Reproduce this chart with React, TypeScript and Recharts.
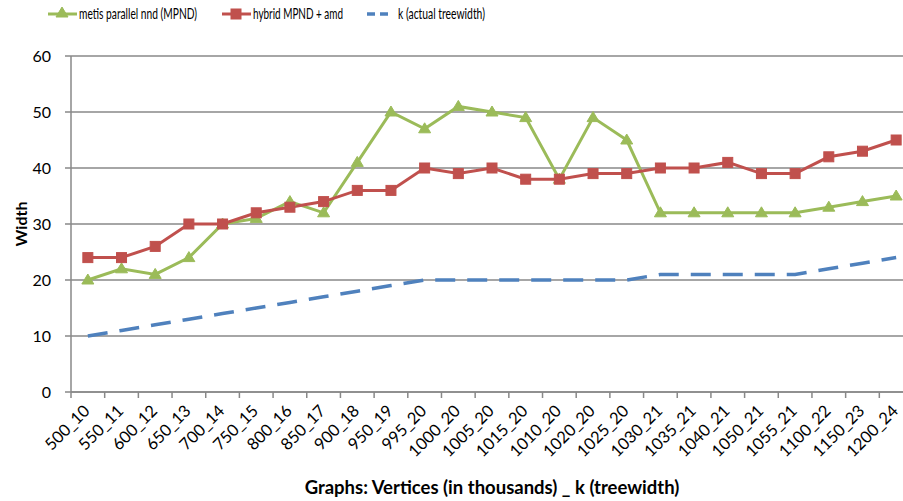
import React from 'react';
import { LineChart, Line, XAxis, YAxis, CartesianGrid, Label } from 'recharts';

const graphs = [
  '500_10', '550_11', '600_12', '650_13', '700_14', '750_15', '800_16', '850_17', '900_18',
  '950_19', '995_20', '1000_20', '1005_20', '1015_20', '1010_20', '1020_20', '1025_20',
  '1030_21', '1035_21', '1040_21', '1050_21', '1055_21', '1100_22', '1150_23', '1200_24',
];
const metisWidths = [20, 22, 21, 24, 30, 31, 34, 32, 41, 50, 47, 51, 50, 49, 38, 49, 45, 32, 32, 32, 32, 32, 33, 34, 35];
const hybridWidths = [24, 24, 26, 30, 30, 32, 33, 34, 36, 36, 40, 39, 40, 38, 38, 39, 39, 40, 40, 41, 39, 39, 42, 43, 45];
const treewidths = [10, 11, 12, 13, 14, 15, 16, 17, 18, 19, 20, 20, 20, 20, 20, 20, 20, 21, 21, 21, 21, 21, 22, 23, 24];
const yTicks = [0, 10, 20, 30, 40, 50, 60];

const GREEN = '#9BBB59';
const RED = '#C0504D';
const BLUE = '#4F81BD';
const GRID = '#888';
const FONT = 'Lato, "Open Sans", sans-serif';

const PLOT_W = 842;
const HALF_BAND = PLOT_W / graphs.length / 2;

const data = graphs.map((g, i) => ({
  graph: g,
  metis: metisWidths[i],
  hybrid: hybridWidths[i],
  k: treewidths[i],
}));

const Triangle = (props: any) => {
  const { cx, cy } = props;
  if (cx == null || cy == null) return null;
  return <path d={`M${cx},${cy - 6} L${cx + 6},${cy + 4} L${cx - 6},${cy + 4} Z`} fill={GREEN} stroke={GREEN} />;
};

const Square = (props: any) => {
  const { cx, cy } = props;
  if (cx == null || cy == null) return null;
  return <rect x={cx - 5} y={cy - 5} width={10} height={10} fill={RED} stroke={RED} />;
};

// ticks sit on category boundaries like in Excel, labels at the category center
const XTick = (props: any) => {
  const { x, y, payload } = props;
  return (
    <g>
      <line x1={x - HALF_BAND} y1={y - 8} x2={x - HALF_BAND} y2={y - 2} stroke={GRID} strokeWidth={1.5} />
      <g transform={`translate(${x + 3},${y + 12})`}>
        <text x={0} y={0} textAnchor="end" transform="rotate(-45)" fontSize={16.5} fill="#000" fontFamily={FONT}>
          {payload.value}
        </text>
      </g>
    </g>
  );
};

// legend texts are squeezed to the narrow widths the original font had
const legendItems = [
  { label: 'metis parallel nnd (MPND)', color: GREEN, kind: 'tri', x: 48, w: 118 },
  { label: 'hybrid MPND + amd', color: RED, kind: 'sq', x: 222, w: 90 },
  { label: 'k (actual treewidth)', color: BLUE, kind: 'dash', x: 367, w: 87 },
];

const ChartLegend = () => (
  <svg width={903} height={30} style={{ position: 'absolute', left: 0, top: 0 }}>
    {legendItems.map((it) => (
      <g key={it.label}>
        {it.kind === 'dash' ? (
          <line x1={it.x} y1={14} x2={it.x + 21} y2={14} stroke={it.color} strokeWidth={3.5} strokeDasharray="8 5" />
        ) : (
          <line x1={it.x} y1={14} x2={it.x + 29} y2={14} stroke={it.color} strokeWidth={3} />
        )}
        {it.kind === 'tri' && <Triangle cx={it.x + 14} cy={13} />}
        {it.kind === 'sq' && <Square cx={it.x + 14} cy={14} />}
        <text
          x={it.x + 31}
          y={19}
          fontSize={15}
          textLength={it.w}
          lengthAdjust="spacingAndGlyphs"
          fontFamily={FONT}
          fill="#000"
        >
          {it.label}
        </text>
      </g>
    ))}
  </svg>
);

const App: React.FC = () => {
  return (
    <div style={{ position: 'absolute', left: 0, top: 0, width: 903, height: 501, overflow: 'hidden', background: '#fff' }}>
      <LineChart width={923} height={501} data={data} margin={{ top: 56, right: 10, left: 25, bottom: 0 }}>
        <CartesianGrid vertical={false} stroke={GRID} strokeWidth={1.5} />
        <XAxis
          dataKey="graph"
          scale="band"
          interval={0}
          height={109}
          tick={<XTick />}
          tickLine={false}
          tickSize={6}
          axisLine={{ stroke: GRID, strokeWidth: 1.5 }}
        >
          <Label value="Graphs: Vertices (in thousands) _ k (treewidth)" position="insideBottom" offset={7} style={{ fontWeight: 'bold', fontSize: 18.5, fontFamily: FONT, fill: '#000' }} />
        </XAxis>
        <YAxis
          domain={[0, 60]}
          ticks={yTicks}
          width={46}
          tickSize={6}
          tickMargin={14}
          tick={{ fontSize: 16, fill: '#000', fontFamily: FONT }}
          tickLine={{ stroke: GRID, strokeWidth: 1.5 }}
          axisLine={{ stroke: GRID, strokeWidth: 1.5 }}
        >
          <Label value="Width" angle={-90} position="insideLeft" offset={-4} style={{ fontWeight: 'bold', fontSize: 16, fontFamily: FONT, fill: '#000', textAnchor: 'middle' }} />
        </YAxis>
        <Line dataKey="metis" name="metis parallel nnd (MPND)" stroke={GREEN} strokeWidth={3} dot={<Triangle />} activeDot={false} isAnimationActive={false} />
        <Line dataKey="hybrid" name="hybrid MPND + amd" stroke={RED} strokeWidth={3} dot={<Square />} activeDot={false} isAnimationActive={false} />
        <Line dataKey="k" name="k (actual treewidth)" stroke={BLUE} strokeWidth={3.5} strokeDasharray="20 12" dot={false} activeDot={false} isAnimationActive={false} />
      </LineChart>
      <ChartLegend />
    </div>
  );
};

export default App;
